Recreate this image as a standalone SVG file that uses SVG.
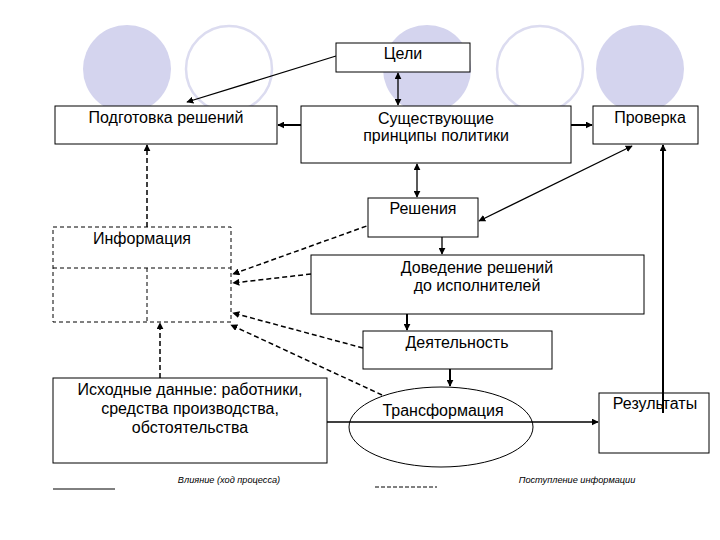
<svg xmlns="http://www.w3.org/2000/svg" width="720" height="540" viewBox="0 0 720 540">
<style>
.box{fill:#fff;stroke:#000;stroke-width:1}
.dbox{fill:none;stroke:#000;stroke-width:1;stroke-dasharray:4 3}
.t{font-family:"Liberation Sans",Arial,sans-serif;font-size:16px;fill:#000;text-anchor:middle}
.lg{font-family:"Liberation Sans",Arial,sans-serif;font-size:9.2px;font-style:italic;fill:#000;text-anchor:middle}
.c{stroke:#000;stroke-width:1.3;fill:none}
.th{stroke:#000;stroke-width:2;fill:none}
.d{stroke:#000;stroke-width:1.5;fill:none;stroke-dasharray:5 3}
.cf{fill:#d4d4ee;stroke:none}
.co{fill:none;stroke:#dcdcf0;stroke-width:2.5}
</style>
<defs>
<marker id="a" viewBox="0 0 10 10" refX="9" refY="5" markerWidth="7" markerHeight="7" markerUnits="userSpaceOnUse" orient="auto-start-reverse">
<path d="M0,0 L10,5 L0,10 z" fill="#000"/>
</marker>
</defs>
<rect width="720" height="540" fill="#fff"/>
<g id="decor">
<circle class="cf" cx="127" cy="69" r="44"/>
<circle class="co" cx="229" cy="69" r="43"/>
<circle class="cf" cx="427" cy="69" r="44"/>
<circle class="co" cx="540" cy="69" r="43"/>
<circle class="cf" cx="640" cy="69" r="44"/>
</g>
<g id="connectors">
<line class="c" x1="336" y1="56" x2="187" y2="102" marker-end="url(#a)"/>
<line class="c" x1="398" y1="73" x2="398" y2="105" marker-start="url(#a)" marker-end="url(#a)"/>
<line class="th" x1="301" y1="125" x2="278" y2="125" marker-end="url(#a)"/>
<line class="th" x1="568" y1="125" x2="592" y2="125" marker-end="url(#a)"/>
<line class="c" x1="417" y1="164" x2="417" y2="197" marker-start="url(#a)" marker-end="url(#a)"/>
<line class="c" x1="479" y1="221" x2="632" y2="146" marker-start="url(#a)" marker-end="url(#a)"/>
<line class="c" x1="442" y1="237" x2="442" y2="254" marker-end="url(#a)"/>
<line class="th" x1="407" y1="314" x2="407" y2="330" marker-end="url(#a)"/>
<line class="th" x1="450" y1="369" x2="450" y2="386" marker-end="url(#a)"/>
<line class="c" x1="327" y1="422" x2="598" y2="422" marker-end="url(#a)"/>
<line class="th" x1="663" y1="413" x2="663" y2="145" marker-end="url(#a)"/>
<line class="d" x1="389" y1="218" x2="233" y2="274" marker-end="url(#a)"/>
<line class="d" x1="311" y1="274" x2="233" y2="283" marker-end="url(#a)"/>
<line class="d" x1="363" y1="348" x2="233" y2="313" marker-end="url(#a)"/>
<line class="d" x1="382" y1="395" x2="231" y2="325" marker-end="url(#a)"/>
<line class="d" x1="147" y1="227" x2="147" y2="145" marker-end="url(#a)"/>
<line class="d" x1="160" y1="378" x2="160" y2="323" marker-end="url(#a)"/>
</g>
<g id="n-celi"><rect class="box" x="336" y="43" width="134" height="29"/><text class="t" x="403" y="59">Цели</text></g>
<g id="n-podgotovka"><rect class="box" x="55" y="106" width="222" height="38"/><text class="t" x="166" y="123">Подготовка решений</text></g>
<g id="n-principy"><rect class="box" x="301" y="106" width="270" height="57"/><text class="t" x="436" y="124">Существующие</text><text class="t" x="436" y="141">принципы политики</text></g>
<g id="n-proverka"><rect class="box" x="593" y="106" width="105" height="38"/><text class="t" x="650" y="123">Проверка</text></g>
<g id="n-resheniya"><rect class="box" x="368" y="198" width="110" height="39"/><text class="t" x="423" y="214">Решения</text></g>
<g id="n-informaciya"><rect class="dbox" x="53" y="227" width="178" height="95"/><line class="dbox" x1="53" y1="268" x2="231" y2="268"/><line class="dbox" x1="147" y1="268" x2="147" y2="322"/><text class="t" x="142" y="244">Информация</text></g>
<g id="n-dovedenie"><rect class="box" x="311" y="255" width="333" height="59"/><text class="t" x="477" y="273">Доведение решений</text><text class="t" x="477" y="291">до исполнителей</text></g>
<g id="n-deyatelnost"><rect class="box" x="363" y="331" width="189" height="38"/><text class="t" x="457" y="348">Деятельность</text></g>
<g id="n-ishodnye"><rect class="box" x="53" y="378" width="274" height="85"/><text class="t" x="190" y="395">Исходные данные: работники,</text><text class="t" x="190" y="414">средства производства,</text><text class="t" x="190" y="433">обстоятельства</text></g>
<g id="n-transformaciya"><ellipse cx="441" cy="427" rx="92" ry="40" fill="none" stroke="#000" stroke-width="1"/><text class="t" x="443" y="416">Трансформация</text></g>
<g id="n-rezultaty"><rect x="599" y="393" width="110" height="60" fill="none" stroke="#000" stroke-width="1"/><text class="t" x="655" y="409">Результаты</text></g>
<g id="legend">
<line stroke="#000" stroke-width="1" x1="53" y1="489" x2="115" y2="489"/>
<text class="lg" x="229" y="483">Влияние (ход процесса)</text>
<line stroke="#000" stroke-width="1" stroke-dasharray="4 2" x1="375" y1="487" x2="437" y2="487"/>
<text class="lg" x="577" y="483">Поступление информации</text>
</g>
</svg>
